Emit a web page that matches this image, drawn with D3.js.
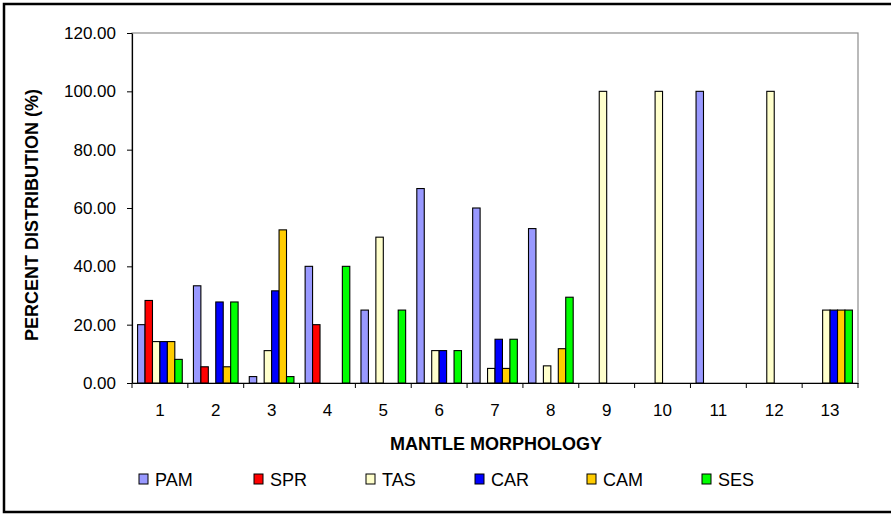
<!DOCTYPE html>
<html>
<head>
<meta charset="utf-8">
<script src="https://cdn.jsdelivr.net/npm/d3@7"></script>
<style>
  html, body { margin: 0; padding: 0; background: #fff; }
  svg { display: block; font-family: "Liberation Sans", Arial, sans-serif; }
</style>
</head>
<body>
<div id="chart"></div>
<script>
// ========== DATA ==========
const categories = ["1", "2", "3", "4", "5", "6", "7", "8", "9", "10", "11", "12", "13"];
const seriesNames = ["PAM", "SPR", "TAS", "CAR", "CAM", "SES"];
const seriesColors = ["#9999ff", "#ff0000", "#ffffcc", "#0000ff", "#ffcc00", "#00ff00"];

const PAM = [20.0, 33.33, 2.2, 40.0, 25.0, 66.67, 60.0, 52.94, 0, 0, 100, 0, 0];
const SPR = [28.3, 5.56, 0, 20.0, 0, 0, 0, 0, 0, 0, 0, 0, 0];
const TAS = [14.2, 0, 11.1, 0, 50.0, 11.11, 5.0, 5.88, 100, 100, 0, 100, 25];
const CAR = [14.2, 27.78, 31.6, 0, 0, 11.11, 15.0, 0, 0, 0, 0, 0, 25];
const CAM = [14.2, 5.56, 52.5, 0, 0, 0, 5.0, 11.76, 0, 0, 0, 0, 25];
const SES = [8.1, 27.78, 2.2, 40.0, 25.0, 11.11, 15.0, 29.41, 0, 0, 0, 0, 25];
const seriesValues = [PAM, SPR, TAS, CAR, CAM, SES];

const yTicks = [0, 20, 40, 60, 80, 100, 120];

// ========== LAYOUT ==========
const width = 891, height = 515;
const plot = { left: 132, top: 33, right: 858, bottom: 383 };

const svg = d3.select("#chart").append("svg")
  .attr("width", width)
  .attr("height", height);

// outer frame (runs off the right edge like the original)
svg.append("rect")
  .attr("x", 4).attr("y", 4)
  .attr("width", width + 10).attr("height", 508)
  .style("fill", "#fff")
  .style("stroke", "#000")
  .style("stroke-width", 2.5);

const x0 = d3.scaleBand()
  .domain(categories)
  .range([plot.left, plot.right])
  .paddingInner(0)
  .paddingOuter(0);

// 6 bars + 1.5 bar gap per category (Excel gap width 150%)
const x1 = d3.scaleBand()
  .domain(seriesNames)
  .range([0, x0.bandwidth()])
  .paddingOuter(0.75)
  .paddingInner(0);

const y = d3.scaleLinear()
  .domain([0, 120])
  .range([plot.bottom, plot.top]);

// plot area border (gray top / right)
svg.append("rect")
  .attr("x", plot.left).attr("y", plot.top)
  .attr("width", plot.right - plot.left)
  .attr("height", plot.bottom - plot.top)
  .style("fill", "#fff")
  .style("stroke", "#8c8c8c")
  .style("stroke-width", 1.2);

// ========== BARS ==========
const groups = svg.append("g").attr("class", "bars")
  .selectAll("g")
  .data(categories)
  .join("g")
  .attr("transform", d => `translate(${x0(d)},0)`);

groups.selectAll("rect")
  .data((d, i) => seriesNames.map((s, k) => ({ s, k, v: seriesValues[k][i] })).filter(e => e.v > 0))
  .join("rect")
  .attr("x", d => x1(d.s))
  .attr("y", d => y(d.v))
  .attr("width", x1.bandwidth())
  .attr("height", d => y(0) - y(d.v))
  .style("fill", d => seriesColors[d.k])
  .style("stroke", "#000")
  .style("stroke-width", 1.1);

// ========== AXES ==========
const yAxis = svg.append("g")
  .attr("transform", `translate(${plot.left},0)`)
  .call(d3.axisLeft(y).tickValues(yTicks).tickSize(5).tickSizeOuter(0).tickPadding(11)
    .tickFormat(d3.format(".2f")));
yAxis.select(".domain").style("stroke", "#000").style("stroke-width", 1.2);
yAxis.selectAll(".tick line").style("stroke", "#000");
yAxis.selectAll("text")
  .style("font-size", "17px")
  .style("fill", "#000");

const xAxis = svg.append("g")
  .attr("transform", `translate(0,${plot.bottom})`)
  .call(d3.axisBottom(x0).tickSize(0).tickSizeOuter(0).tickPadding(18));
xAxis.select(".domain").style("stroke", "#000").style("stroke-width", 1.2);
xAxis.selectAll("text")
  .attr("dy", 0)
  .attr("y", 33)
  .style("font-size", "17px")
  .style("fill", "#000");

// x ticks sit on category boundaries
svg.append("g")
  .selectAll("line")
  .data(categories.concat(["end"]))
  .join("line")
  .attr("x1", (d, i) => i < categories.length ? x0(d) : plot.right)
  .attr("x2", (d, i) => i < categories.length ? x0(d) : plot.right)
  .attr("y1", plot.bottom)
  .attr("y2", plot.bottom + 5)
  .style("stroke", "#000");

// ========== TITLES ==========
svg.append("text")
  .attr("x", 496)
  .attr("y", 450)
  .attr("text-anchor", "middle")
  .style("font-size", "18px")
  .style("font-weight", "bold")
  .text("MANTLE MORPHOLOGY");

svg.append("text")
  .attr("transform", "translate(38,215) rotate(-90)")
  .attr("text-anchor", "middle")
  .style("font-size", "18px")
  .style("font-weight", "bold")
  .text("PERCENT DISTRIBUTION (%)");

// ========== LEGEND ==========
const legendX = [139, 254, 366, 475, 587, 702];
const legend = svg.append("g")
  .selectAll("g")
  .data(seriesNames)
  .join("g")
  .attr("transform", (d, i) => `translate(${legendX[i]},474)`);

legend.append("rect")
  .attr("width", 9).attr("height", 10)
  .style("fill", (d, i) => seriesColors[i])
  .style("stroke", "#000")
  .style("stroke-width", 1);

legend.append("text")
  .attr("x", 16)
  .attr("y", 11.5)
  .style("font-size", "18px")
  .text(d => d);
</script>
</body>
</html>
